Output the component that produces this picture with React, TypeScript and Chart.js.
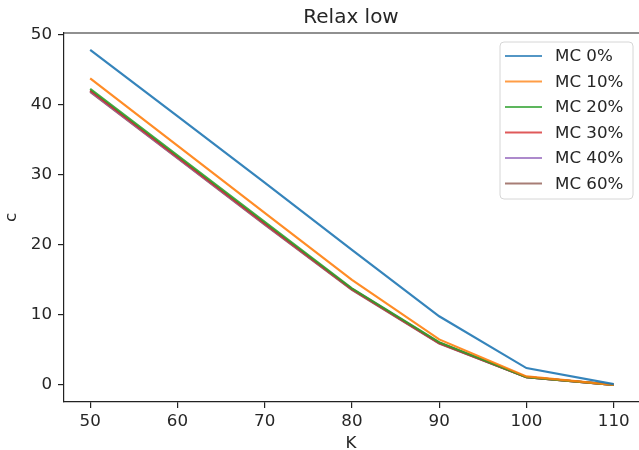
import React, { useEffect, useRef } from "react";
import { Chart, registerables } from "chart.js";

Chart.register(...registerables);

const kValues = [50, 60, 70, 80, 90, 100, 110];
const xTicks = [50, 60, 70, 80, 90, 100, 110];
const yTicks = [0, 10, 20, 30, 40, 50];

const mc0 = [47.9, 38.4, 28.9, 19.3, 9.8, 2.4, 0.1];
const mc10 = [43.8, 34.2, 24.6, 15.0, 6.5, 1.2, 0.0];
const mc20 = [42.3, 32.8, 23.3, 13.8, 6.1, 1.1, 0.0];
const mc30 = [42.1, 32.6, 23.1, 13.7, 6.0, 1.1, 0.0];
const mc40 = [42.0, 32.5, 23.0, 13.7, 6.0, 1.1, 0.0];
const mc60 = [41.9, 32.4, 22.9, 13.6, 5.9, 1.1, 0.0];

const seriesNames = ["MC 0%", "MC 10%", "MC 20%", "MC 30%", "MC 40%", "MC 60%"];
const seriesValues = [mc0, mc10, mc20, mc30, mc40, mc60];
const seriesColors = [
  "rgba(31,119,180,0.9)",
  "rgba(255,127,14,0.9)",
  "rgba(44,160,44,0.9)",
  "rgba(214,39,40,0.9)",
  "rgba(148,103,189,0.9)",
  "rgba(140,86,75,0.9)",
];

const TEXT = "#262626";
const FONT = "'DejaVu Sans', sans-serif";

export default function App() {
  const ref = useRef<HTMLCanvasElement | null>(null);

  useEffect(() => {
    document.body.style.margin = "0";
    const canvas = ref.current;
    if (!canvas) return;

    const decor = {
      id: "decor",
      afterDraw(chart: any) {
        const { ctx, chartArea } = chart;
        const { left, right, top, bottom } = chartArea;
        ctx.save();
        ctx.strokeStyle = "#222";
        ctx.lineWidth = 1.2;
        ctx.beginPath();
        ctx.moveTo(left, top);
        ctx.lineTo(right + 2, top);
        ctx.stroke();
        ctx.fillStyle = TEXT;
        ctx.font = `20px ${FONT}`;
        ctx.textAlign = "center";
        ctx.textBaseline = "alphabetic";
        ctx.fillText("Relax low", 351, top - 10);
        ctx.font = `16.7px ${FONT}`;
        ctx.textBaseline = "middle";
        ctx.fillText("K", 351, 444);
        ctx.save();
        ctx.translate(12, (top + bottom) / 2);
        ctx.rotate(-Math.PI / 2);
        ctx.fillText("c", 0, 0);
        ctx.restore();
        const bx = 500, by = 42, bw = 133, bh = 157, r = 4;
        ctx.beginPath();
        ctx.moveTo(bx + r, by);
        ctx.arcTo(bx + bw, by, bx + bw, by + bh, r);
        ctx.arcTo(bx + bw, by + bh, bx, by + bh, r);
        ctx.arcTo(bx, by + bh, bx, by, r);
        ctx.arcTo(bx, by, bx + bw, by, r);
        ctx.closePath();
        ctx.fillStyle = "rgba(255,255,255,0.8)";
        ctx.fill();
        ctx.strokeStyle = "#d6d6d6";
        ctx.lineWidth = 1;
        ctx.stroke();
        ctx.textAlign = "left";
        ctx.font = `16.7px ${FONT}`;
        seriesNames.forEach((name, i) => {
          const y = 56 + i * 25.5;
          ctx.strokeStyle = seriesColors[i];
          ctx.globalAlpha = 0.85;
          ctx.lineWidth = 2.2;
          ctx.beginPath();
          ctx.moveTo(505, y);
          ctx.lineTo(542, y);
          ctx.stroke();
          ctx.globalAlpha = 1;
          ctx.fillStyle = TEXT;
          ctx.fillText(name, 555, y + 1);
        });
        ctx.restore();
      },
    };

    const chart = new Chart(canvas, {
      type: "line",
      data: {
        datasets: seriesNames.map((name, i) => ({
          label: name,
          data: kValues.map((k, j) => ({ x: k, y: seriesValues[i][j] })),
          borderColor: seriesColors[i],
          backgroundColor: seriesColors[i],
          borderWidth: 2.2,
          pointRadius: 0,
          tension: 0,
          fill: false,
        })),
      },
      options: {
        responsive: false,
        animation: false,
        layout: { padding: { top: 33, right: 0, left: 0, bottom: 0 } },
        plugins: {
          legend: { display: false },
          title: { display: false },
          tooltip: { enabled: false },
        },
        scales: {
          x: {
            type: "linear",
            min: 47,
            max: 112.9,
            afterBuildTicks: (scale: any) => {
              scale.ticks = xTicks.map((v) => ({ value: v }));
            },
            afterFit: (scale: any) => {
              scale.height = 48;
            },
            grid: {
              drawOnChartArea: false,
              drawTicks: true,
              tickLength: 6,
              color: "#222",
              lineWidth: 1.2,
            },
            border: { display: true, color: "#222", width: 1.2 },
            ticks: {
              color: TEXT,
              font: { family: FONT, size: 16.7 },
              padding: 4,
              maxRotation: 0,
              autoSkip: false,
              callback: (v: any) => String(v),
            },
          },
          y: {
            type: "linear",
            min: -2.45,
            max: 50.3,
            afterBuildTicks: (scale: any) => {
              scale.ticks = yTicks.map((v) => ({ value: v }));
            },
            afterFit: (scale: any) => {
              scale.width = 64;
            },
            grid: {
              drawOnChartArea: false,
              drawTicks: true,
              tickLength: 6,
              color: "#222",
              lineWidth: 1.2,
            },
            border: { display: true, color: "#222", width: 1.2 },
            ticks: {
              color: TEXT,
              font: { family: FONT, size: 16.7 },
              padding: 6,
              autoSkip: false,
              callback: (v: any) => String(v),
            },
          },
        },
      },
      plugins: [decor],
    } as any);

    return () => chart.destroy();
  }, []);

  return (
    <div style={{ width: 639, height: 450 }}>
      <canvas ref={ref} width={639} height={450} style={{ width: 639, height: 450, display: "block" }} />
    </div>
  );
}
